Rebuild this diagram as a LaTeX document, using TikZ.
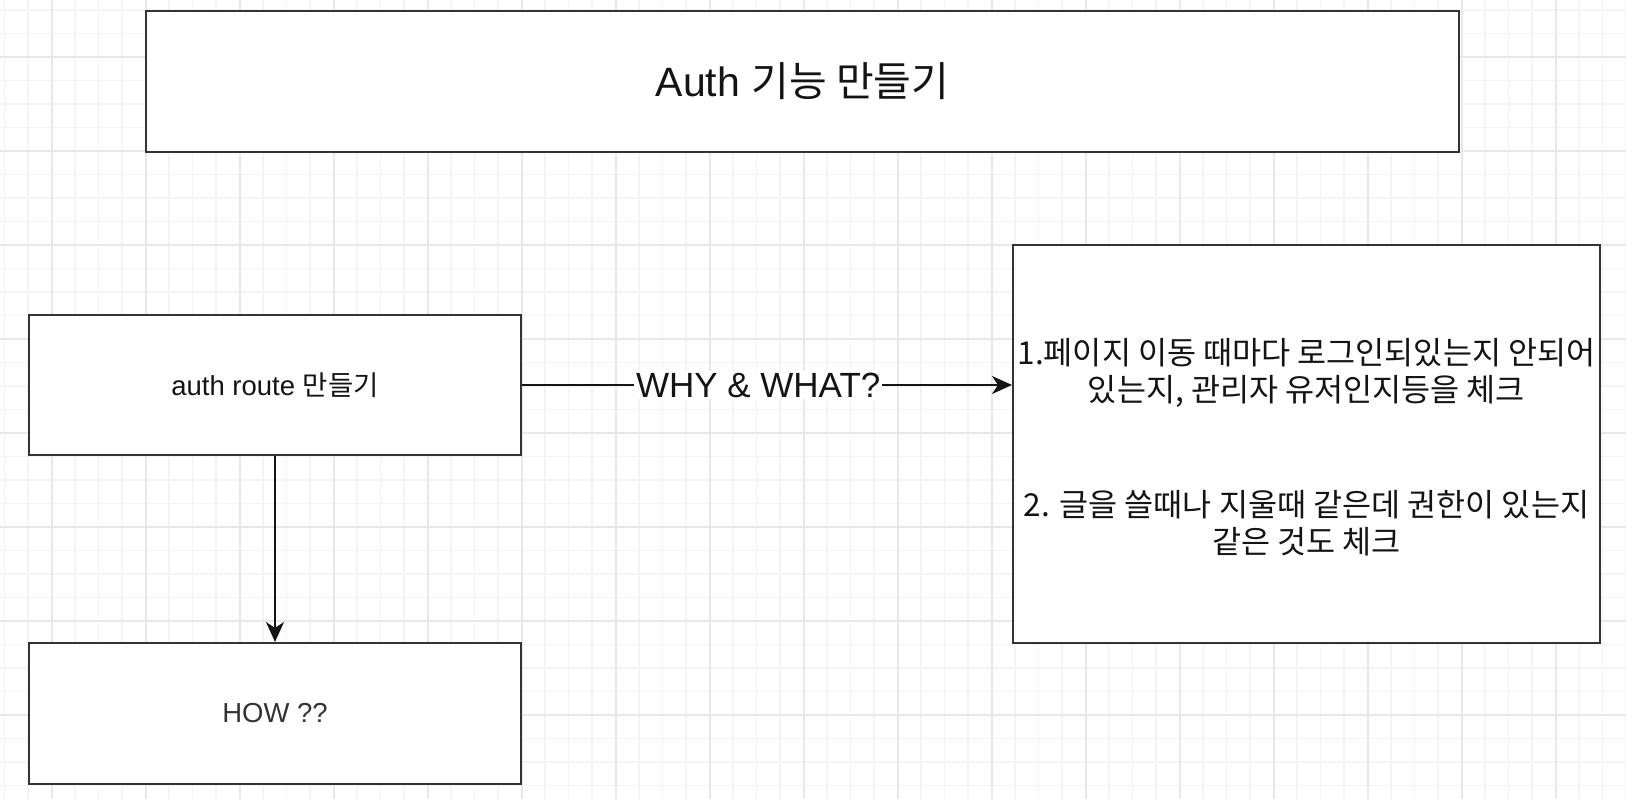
\documentclass[tikz,border=0pt]{standalone}
\usepackage{fontspec}
\setmainfont{Liberation Sans}
\newfontfamily\kr{Noto Sans CJK KR}
\usetikzlibrary{arrows.meta}
\definecolor{gridminor}{HTML}{F4F4F4}
\definecolor{gridmajor}{HTML}{E8E8E8}
\definecolor{boxline}{HTML}{333333}
\definecolor{txt}{HTML}{141414}
\tikzset{
  box/.style={draw=boxline, line width=2pt, fill=white, inner sep=0pt, text=txt, align=center},
  arr/.style={draw=txt, line width=1.6pt, -{Stealth[length=20pt,width=18pt,inset=6pt]}},
  elabel/.style={fill=white, inner sep=2pt, text=txt, font=\fontsize{35}{40}\selectfont}
}
\begin{document}
\begin{tikzpicture}[x=1pt,y=-1pt]
\useasboundingbox (0,0) rectangle (1626,799);
\fill[white] (0,0) rectangle (1626,799);
% grid
\foreach \i in {0,...,70} {
  \draw[gridminor, line width=1.2pt] ({4.5+23.5*\i},0) -- ({4.5+23.5*\i},799);
}
\foreach \i in {0,...,34} {
  \draw[gridminor, line width=1.2pt] (0,{10+23.5*\i}) -- (1626,{10+23.5*\i});
}
\foreach \i in {0,...,17} {
  \draw[gridmajor, line width=1.4pt] ({52+94*\i},0) -- ({52+94*\i},799);
}
\foreach \i in {0,...,8} {
  \draw[gridmajor, line width=1.4pt] (0,{57+94*\i}) -- (1626,{57+94*\i});
}
% nodes
\node[box, minimum width=1313pt, minimum height=141pt, font=\fontsize{41}{46}\selectfont] (title) at (802.5,81.5) {Auth {\kr 기능 만들기}};
\node[box, minimum width=492pt, minimum height=140pt, font=\fontsize{27.5}{32}\selectfont] (auth) at (275,385) {auth route {\kr 만들기}};
\node[box, minimum width=492pt, minimum height=141pt, font=\fontsize{27.5}{32}\selectfont, text=boxline] (how) at (275,713.5) {HOW ??};
\node[box, minimum width=587pt, minimum height=398pt] (right) at (1306.5,444) {};
\node[align=center, inner sep=0pt, text=txt, font=\kr\fontsize{31.6}{37}\selectfont] (rtext) at ([yshift=-3pt]right.center)
  {1.페이지 이동 때마다 로그인되있는지 안되어\\있는지, 관리자 유저인지등을 체크\\[78pt]2. 글을 쓸때나 지울때 같은데 권한이 있는지\\같은 것도 체크};
% connectors
\draw[arr] (auth.east) -- node[elabel, pos=0.482] (why) {WHY \& WHAT?} (auth.east -| right.west);
\draw[arr] (auth.south) -- (how.north);
\end{tikzpicture}
\end{document}
